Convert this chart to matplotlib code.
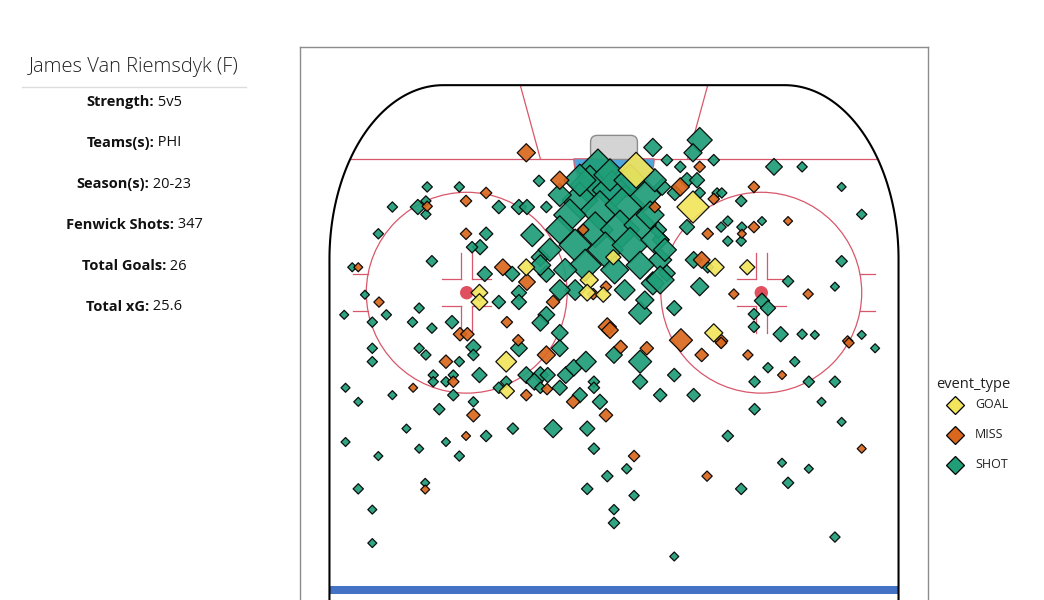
import matplotlib
matplotlib.use("Agg")
import matplotlib.pyplot as plt
import numpy as np
from matplotlib.patches import Circle, FancyBboxPatch, Wedge, Rectangle
from matplotlib.lines import Line2D

plt.rcParams['font.family'] = ['Open Sans', 'DejaVu Sans']

# ---- data: x (ft from centre), y (ft from end boards), xG ----
goal_x = [3.3, 11.8, -13.1, -20.1, -20.1, -3.7, -4.0, -0.1, 19.9, 15.1, 14.9, -16.1, -16.0, -1.6]
goal_y = [12.7, 18.2, 27.2, 31.0, 32.4, 29.1, 31.0, 25.7, 27.2, 27.2, 37.0, 41.3, 45.7, 31.3]
goal_xg = [.25, .2, .05, .05, .05, .06, .05, .04, .04, .06, .06, .08, .04, .04]

miss_x = [-13.1, -8.1, -19.1, -22.1, -22.1, -27.9, -38.2, -35.1, -16.6, -13.0, -16.0, -23.0, -21.9, -9.1,
          -1.0, -1.2, -3.1, -4.6, -14.3, 12.8, 9.9, 14.9, 6.1, 20.9, 26.0, 20.9, 14.0, 19.1, 13.1, 17.9,
          29.0, 10.0, 16.0, 34.9, -0.6, -25.1, -24.0, -30.0, -10.1, -13.1, -10.0, -6.1, -1.2, -21.0,
          -22.1, 1.0, 4.9, 16.0, 20.0, 25.1, 35.1, 37.0, 13.9, 3.0, -28.2, 13.1]
miss_y = [10.1, 14.2, 16.1, 17.3, 22.2, 18.1, 27.2, 32.4, 27.2, 29.4, 35.4, 37.2, 37.2, 32.4,
          36.1, 30.1, 31.2, 21.6, 38.1, 12.2, 15.2, 17.0, 18.2, 15.2, 20.3, 21.2, 22.2, 22.2, 26.1, 31.2,
          31.2, 38.1, 38.2, 38.2, 36.6, 41.3, 44.3, 45.2, 40.3, 46.3, 45.4, 47.3, 49.3, 49.3,
          52.4, 39.1, 39.3, 38.5, 40.3, 43.3, 38.5, 54.3, 58.4, 55.4, 60.4, 40.3]
miss_xg = [.06, .06, .02, .02, .02, .015, .01, .015, .05, .05, .02, .03, .03, .03,
           .06, .02, .02, .02, .02, .02, .06, .02, .02, .02, .01, .02, .02, .01, .05, .015,
           .015, .1, .03, .015, .05, .03, .02, .01, .06, .02, .02, .03, .03, .03,
           .01, .03, .03, .02, .015, .01, .015, .01, .015, .02, .01, .03]

shot_x = [-27.9, -23.1, -33.1, -29.3, -28.1, -28.1, -17.2, -14.2, -13.0, -10.1, -11.2, -35.2, -19.1, -20.0,
          -21.2, -27.2, -39.1, -19.3, -15.2, -37.2, -34.0, -29.1, -30.1, -36.1, -27.2, -24.2, -17.2, -14.2,
          -14.2, -12.2, -11.0, -10.1, -10.1, -8.1, -11.0, 5.8, 12.8, 11.8, 7.9, 14.9, 9.9, 23.9, 28.1,
          34.0, 37.0, 19.0, 17.0, 16.0, 19.1, 17.0, 19.0, 22.1, 10.9, 7.0, 11.9, 14.0, 12.8, 9.0, 3.9,
          26.0, 33.0, 34.0, 22.1, 23.0, 20.9, 20.9, 24.9, 28.1, 30.0, 37.0, 39.0, 15.4, 16.1, 12.8, 9.1,
          10.9, 12.4, 7.2, 6.6, 6.9, 7.9, 5.8, -36.1, -36.1, -29.1, -28.1, -23.1, -21.0, -21.0, -27.0,
          -27.0, -25.1, -24.0, -20.1, -24.0, -21.0, -26.1, -33.1, -38.2, -40.1, -14.2, -8.1, -13.1, -11.0,
          -11.9, -9.9, -11.0, -17.2, -16.1, -8.1, -7.2, -6.0, -4.2, -5.1, -2.1, -3.0, -3.0, 0.0, 3.9, 3.9,
          6.9, 11.9, 9.0, -9.1, -4.0, -15.1, -19.1, -31.0, -40.1, -35.2, -29.1, -25.1, -23.1, -3.0, 1.9,
          -1.0, -4.0, 3.0, 0.0, 0.0, -38.2, -28.2, -36.1, -36.1, 9.0, 33.0, 17.0, 19.0, 26.0, 25.1, 29.1,
          34.0, 31.0, 21.0, 21.0, 23.0, 27.0, 29.1, 33.0, -40.3,
          -2.4, -3.6, -0.3, -5.1, -2.1, 1.6, 4.6, -6.6, -2.8, 0.9, 3.9, -8.1, -5.8, -1.3, 2.4, 6.1,
          -4.3, 0.1, 3.9, 6.9, -9.6, -7.3, -0.6, 2.4, 5.4, -5.1, -8.1, 7.6, -5.8, 1.6, -8.1, 4.6, -11.0, 6.1]
shot_y = [15.2, 15.2, 18.2, 18.2, 17.3, 19.3, 18.2, 18.2, 18.2, 18.2, 14.3, 22.2, 22.2, 24.2,
          24.2, 26.3, 27.2, 28.2, 28.2, 31.3, 34.3, 33.3, 35.4, 35.4, 36.3, 35.4, 32.4, 31.0,
          32.4, 22.4, 25.7, 28.2, 34.3, 37.0, 35.5, 9.3, 8.2, 10.1, 11.2, 11.2, 12.2, 12.2, 12.2,
          15.2, 19.3, 17.3, 20.3, 21.2, 21.2, 23.3, 23.3, 20.3, 21.2, 23.1, 26.1, 27.2, 30.1, 33.3, 34.0,
          29.3, 30.1, 26.3, 32.2, 33.3, 34.2, 36.1, 37.2, 37.2, 37.3, 37.3, 39.3, 16.1, 16.1, 16.1, 16.1,
          14.2, 14.2, 15.2, 21.6, 26.1, 28.1, 29.6, 39.3, 41.3, 39.3, 40.3, 41.3, 39.1, 40.3, 43.3,
          44.3, 44.3, 43.3, 43.3, 46.3, 47.3, 48.4, 46.3, 47.3, 45.2, 39.3, 39.3, 43.3, 43.3,
          44.3, 43.3, 45.2, 45.2, 44.3, 45.2, 43.3, 42.2, 41.3, 46.3, 47.3, 44.3, 45.2, 40.3, 41.3, 44.3,
          46.3, 46.3, 43.3, 51.3, 51.3, 51.3, 52.4, 51.3, 53.3, 55.4, 54.3, 53.3, 55.4, 54.3, 57.3,
          58.4, 60.3, 61.3, 63.4, 65.4, 60.3, 59.4, 63.4, 68.4, 70.4, 67.5, 52.4, 60.3, 59.4, 56.4, 57.3,
          50.3, 47.3, 48.4, 44.3, 42.2, 41.3, 44.3, 44.3, 34.3,
          12.7, 14.9, 15.7, 17.2, 18.7, 17.9, 16.4, 19.4, 21.6, 21.6, 20.9, 21.6, 23.9, 24.6, 23.9, 23.1,
          26.9, 27.6, 26.9, 29.1, 24.6, 27.6, 13.4, 14.2, 19.4, 14.2, 16.4, 24.6, 30.6, 30.6, 30.6, 32.1, 26.9, 14.2]
shot_xg = [.015, .015, .015, .04, .015, .015, .03, .04, .04, .02, .02, .015, .03, .04,
           .02, .02, .01, .04, .04, .01, .015, .015, .015, .015, .015, .03, .03, .04,
           .04, .1, .06, .05, .05, .05, .05, .06, .12, .06, .02, .02, .02, .05, .015,
           .01, .015, .02, .015, .015, .015, .015, .015, .01, .04, .05, .05, .02, .06, .04, .1,
           .02, .01, .02, .04, .04, .02, .02, .04, .015, .01, .01, .01, .015, .015, .02, .04,
           .04, .04, .05, .05, .1, .05, .1, .015, .015, .015, .015, .015, .04, .02, .015,
           .015, .015, .015, .04, .02, .015, .02, .01, .01, .01, .05, .05, .05, .05,
           .05, .04, .02, .02, .02, .04, .05, .05, .08, .04, .04, .02, .02, .05, .1, .04,
           .03, .03, .03, .06, .04, .02, .02, .01, .01, .01, .01, .01, .015, .02, .015,
           .02, .02, .015, .015, .02, .015, .01, .01, .01, .01, .015, .02, .02, .02, .01, .01,
           .01, .01, .02, .02, .015, .015, .02, .02, .01,
           .35, .3, .3, .25, .3, .3, .2, .2, .25, .3, .2, .15, .2, .25, .25, .15,
           .2, .15, .15, .15, .1, .1, .2, .2, .15, .2, .1, .1, .08, .08, .08, .06, .08, .1]

events = ['GOAL', 'MISS', 'SHOT']
colors = {'GOAL': '#F2E55C', 'MISS': '#D9681E', 'SHOT': '#1F9E78'}

name = "James Van Riemsdyk (F)"
info_labels = ["Strength:", "Teams(s):", "Season(s):", "Fenwick Shots:", "Total Goals:", "Total xG:"]
info_values = ["5v5", "PHI", "20-23", "347", "26", "25.6"]

W, H = 1044, 600
fig = plt.figure(figsize=(W / 100, H / 100), dpi=100)
fig.patch.set_facecolor('white')

ax = fig.add_axes([300 / W, 0, 628 / W, 553 / H])
ax.set_xlim(-46.9, 46.9)
ax.set_ylim(76.9, -5.7)
ax.set_aspect('equal')
ax.set_xticks([]); ax.set_yticks([])
for s in ax.spines.values():
    s.set_color('#8c8c8c'); s.set_linewidth(1.0)
ax.spines['bottom'].set_visible(False)

red = '#D9576A'
rx, ry = 17.0, 26.0
t = np.linspace(0, np.pi / 2, 60)
lx = -42.5 + rx - rx * np.cos(t); ly = ry - ry * np.sin(t)
bx = np.concatenate([[-42.5], lx, -lx[::-1], [42.5]])
by = np.concatenate([[80], ly, ly[::-1], [80]])
ax.plot(bx, by, color='black', lw=1.5, zorder=3)

def board_x(y):
    dy = ry - y
    return 42.5 - rx + rx * np.sqrt(max(0, 1 - (dy / ry) ** 2))
gx = board_x(11)
ax.plot([-gx, gx], [11, 11], color=red, lw=0.9, zorder=1)
ax.plot([-11, -14], [11, 0], color=red, lw=0.9, zorder=1)
ax.plot([11, 14], [11, 0], color=red, lw=0.9, zorder=1)
ax.add_patch(Wedge((0, 11), 6, 0, 180, facecolor='#4FA7DE', edgecolor=red, lw=0.8, zorder=1))
ax.add_patch(FancyBboxPatch((-3.2, 7.8), 6.4, 3.0, boxstyle='round,pad=0.3,rounding_size=1.0',
                            facecolor='#D4D4D4', edgecolor='#8c8c8c', lw=1.0, zorder=1))
ax.add_patch(Rectangle((-42.5, 74.8), 85, 1.2, facecolor='#4472C4', edgecolor='none', zorder=1))

for cx in (-22, 22):
    cy = 31
    ax.add_patch(Circle((cx, cy), 15, fill=False, edgecolor=red, lw=0.9, zorder=1))
    ax.add_patch(Circle((cx, cy), 1.0, facecolor='#E0505F', edgecolor='none', zorder=1))
    for sx in (-1, 1):
        for sy in (-1, 1):
            ax.plot([cx + sx * 0.8, cx + sx * 0.8], [cy + sy * 2.0, cy + sy * 6.0], color=red, lw=0.9, zorder=1)
            ax.plot([cx + sx * 0.8, cx + sx * 3.7], [cy + sy * 2.0, cy + sy * 2.0], color=red, lw=0.9, zorder=1)
    side = -1 if cx < 0 else 1
    for hy in (-2.8, 2.8):
        x0 = cx + side * np.sqrt(15 ** 2 - hy ** 2)
        ax.plot([x0, x0 + side * 2.2], [cy + hy, cy + hy], color=red, lw=0.9, zorder=1)

def sz(v):
    return 8 + 1300 * np.asarray(v)

kw = dict(marker='D', edgecolors='black', linewidths=0.9, alpha=0.92)
ax.scatter(shot_x, shot_y, s=sz(shot_xg), c=colors['SHOT'], zorder=4, **kw)
ax.scatter(miss_x, miss_y, s=sz(miss_xg), c=colors['MISS'], zorder=5, **kw)
ax.scatter(goal_x, goal_y, s=sz(goal_xg), c=colors['GOAL'], zorder=6, **kw)

fig.text(936 / W, 1 - 384 / H, 'event_type', fontsize=10.5, va='center', ha='left', color='#222222')
for i, e in enumerate(events):
    yy = 1 - (405 + 30 * i) / H
    fig.add_artist(Line2D([955 / W], [yy], marker='D', markersize=9, markerfacecolor=colors[e],
                          markeredgecolor='black', markeredgewidth=0.9, linestyle='none'))
    fig.text(975 / W, yy, e, fontsize=9, va='center', ha='left', color='#222222')

fig.text(134 / W, 1 - 67 / H, name, fontsize=14.5, ha='center', va='center', color='#222222', fontweight='light')
fig.add_artist(Line2D([22 / W, 246 / W], [1 - 87 / H, 1 - 87 / H], color='#dddddd', lw=1.0))
fig.canvas.draw()
r = fig.canvas.get_renderer()
for i, (lab, val) in enumerate(zip(info_labels, info_values)):
    yy = 1 - (102 + 41 * i) / H
    t1 = fig.text(0, yy, lab, fontsize=10.5, fontweight='bold', ha='left', va='center', color='#111111')
    t2 = fig.text(0, yy, ' ' + val, fontsize=10.5, ha='left', va='center', color='#111111')
    w1 = t1.get_window_extent(r).width
    w2 = t2.get_window_extent(r).width
    x0 = 134 - (w1 + w2) / 2
    t1.set_x(x0 / W)
    t2.set_x((x0 + w1) / W)

fig.savefig('out.png', dpi=100, facecolor='white')
